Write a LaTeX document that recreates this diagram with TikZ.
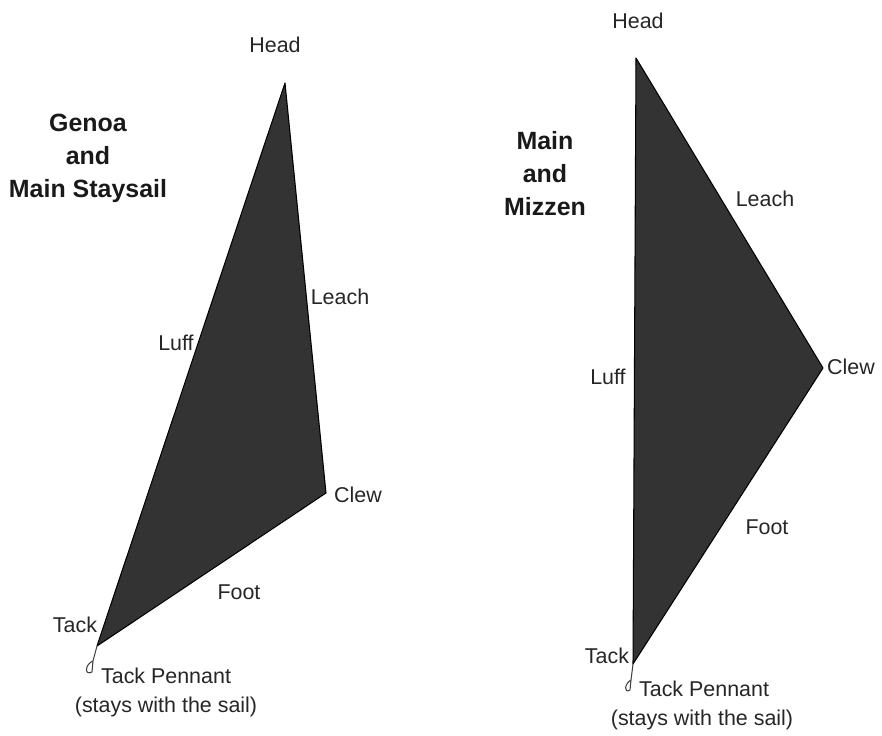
\documentclass[tikz,border=0pt]{standalone}
\usepackage{fontspec}
\setmainfont{Liberation Sans}

\tikzset{
  sail/.style={fill=black!80,draw=black,line width=0.6pt,line join=round},
  pennant/.style={draw=black!75,line width=0.6pt},
  lbl/.style={font=\fontsize{12.2}{14.6}\selectfont,text=black!85},
  ttl/.style={font=\bfseries\fontsize{14.2}{18.8}\selectfont,align=center,text=black!90}
}

\begin{document}
\begin{tikzpicture}[x=0.02cm,y=-0.02cm,line cap=round,line join=round,every node/.style={inner sep=1pt}]
  \useasboundingbox (0,0) rectangle (882,736);
  % genoa and main staysail
  \coordinate (ghead) at (285,83);
  \coordinate (gclew) at (326,493);
  \coordinate (gtack) at (97,646);
  \draw[sail] (ghead) -- (gclew) -- (gtack) -- cycle;
  \coordinate (gring) at (93,661);
  \draw[pennant] (gtack) -- (gring) .. controls (85,664) and (84,676) .. (92,672) -- (gring);
  % main and mizzen
  \coordinate (mhead) at (636,58);
  \coordinate (mclew) at (823,368);
  \coordinate (mtack) at (633,664);
  \draw[sail] (mhead) -- (mclew) -- (mtack) -- cycle;
  \coordinate (mring) at (631,680);
  \draw[pennant] (mtack) -- (mring) .. controls (624,684) and (624,694) .. (630,690) -- (mring);
  % titles
  \node[ttl] (gtitle) at (88,158) {Genoa\\and\\Main Staysail};
  \node[ttl] (mtitle) at (545,174) {Main\\and\\Mizzen};
  % genoa labels
  \node[lbl] (ghlbl) at (275,45) {Head};
  \node[lbl] (glulbl) at (176,343) {Luff};
  \node[lbl] (gllbl) at (340,297) {Leach};
  \node[lbl] (gclbl) at (358,495) {Clew};
  \node[lbl] (gflbl) at (239,592) {Foot};
  \node[lbl] (gtlbl) at (75,625) {Tack};
  \node[lbl,anchor=west] (gplbl) at (99,676) {Tack Pennant};
  \node[lbl] (gslbl) at (166,707) {(stays with the sail)};
  % main labels
  \node[lbl] (mhlbl) at (638,21) {Head};
  \node[lbl] (mllbl) at (765,199) {Leach};
  \node[lbl] (mlulbl) at (608,377) {Luff};
  \node[lbl] (mclbl) at (851,367) {Clew};
  \node[lbl] (mflbl) at (767,527) {Foot};
  \node[lbl] (mtlbl) at (607,656) {Tack};
  \node[lbl,anchor=west] (mplbl) at (637,689) {Tack Pennant};
  \node[lbl] (mslbl) at (702,720) {(stays with the sail)};
\end{tikzpicture}
\end{document}
